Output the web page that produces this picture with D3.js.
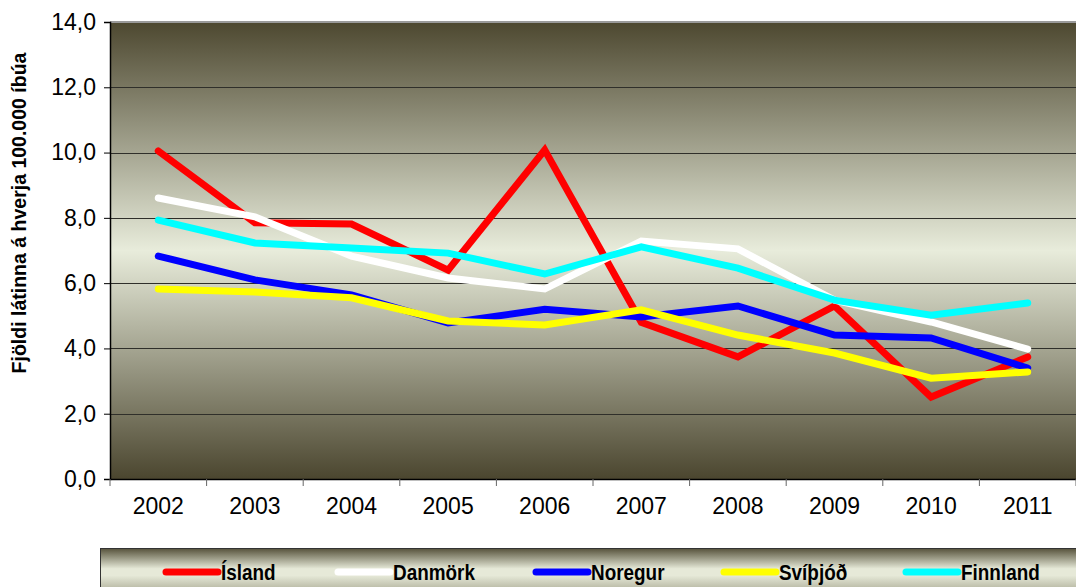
<!DOCTYPE html>
<html><head><meta charset="utf-8">
<script src="https://cdn.jsdelivr.net/npm/d3@7"></script>
<style>body{margin:0;background:#fff}svg{display:block}</style>
</head><body>
<script>
const years = ["2002","2003","2004","2005","2006","2007","2008","2009","2010","2011"];
const seriesNames = ["Ísland","Danmörk","Noregur","Svíþjóð","Finnland"];
const seriesColors = ["#ff0000","#ffffff","#0000ff","#ffff00","#00ffff"];
const island   = [10.05,7.85,7.81,6.40,10.08,4.80,3.74,5.30,2.51,3.74];
const danmork  = [8.61,8.03,6.83,6.16,5.82,7.29,7.05,5.48,4.81,3.98];
const noregur  = [6.83,6.10,5.64,4.78,5.20,4.96,5.30,4.41,4.32,3.40];
const svithjod = [5.82,5.73,5.55,4.84,4.72,5.18,4.41,3.86,3.09,3.28];
const finnland = [7.93,7.23,7.08,6.92,6.28,7.11,6.46,5.48,5.02,5.39];
const yTicks = [0,2,4,6,8,10,12,14];
const yLabel = "Fjöldi látinna á hverja 100.000 íbúa";

const allSeries = [island,danmork,noregur,svithjod,finnland];
const W=1076,H=587;
const m={l:110,r:1076,t:22,b:479};
const svg=d3.select("body").append("svg").attr("width",W).attr("height",H);
const defs=svg.append("defs");
const g1=defs.append("linearGradient").attr("id","bg").attr("x1",0).attr("y1",0).attr("x2",0).attr("y2",1);
[[0,"#4d4830"],[0.5,"#e8ecdb"],[1,"#4b462f"]].forEach(s=>g1.append("stop").attr("offset",s[0]).attr("stop-color",s[1]));
const g2=defs.append("linearGradient").attr("id","lg").attr("x1",0).attr("y1",0).attr("x2",0).attr("y2",1);
[[0,"#57533c"],[0.45,"#e6e9d8"],[0.6,"#e6e9d8"],[1,"#a8a892"]].forEach(s=>g2.append("stop").attr("offset",s[0]).attr("stop-color",s[1]));

const x=d3.scaleBand().domain(years).range([m.l,m.r]);
const y=d3.scaleLinear().domain([0,14]).range([m.b,m.t]);

svg.append("rect").attr("x",m.l).attr("y",m.t).attr("width",m.r-m.l).attr("height",m.b-m.t).attr("fill","url(#bg)");
svg.append("line").attr("x1",m.l).attr("x2",m.r).attr("y1",m.t).attr("y2",m.t).attr("stroke","#9a9a9a").attr("stroke-width",2);
svg.append("g").selectAll("line").data(yTicks.filter(d=>d>0&&d<14)).join("line")
  .attr("x1",m.l).attr("x2",m.r).attr("y1",d=>Math.round(y(d))+0.5).attr("y2",d=>Math.round(y(d))+0.5)
  .attr("stroke","#2f2f2a").attr("stroke-width",1);

const ya=svg.append("g").attr("transform",`translate(${m.l},0)`)
  .call(d3.axisLeft(y).tickValues(yTicks).tickSize(6).tickPadding(8).tickFormat(d=>d3.format(".1f")(d).replace(".",",")));
ya.selectAll("text").attr("font-family","Liberation Sans, Arial, sans-serif").attr("font-size",23).attr("fill","#000");
ya.select(".domain").attr("stroke","#000").attr("stroke-width",1.5);
const xa=svg.append("g").attr("transform",`translate(0,${m.b})`)
  .call(d3.axisBottom(x).tickSize(0).tickPadding(19));
xa.selectAll("text").attr("font-family","Liberation Sans, Arial, sans-serif").attr("font-size",23).attr("fill","#000");
xa.select(".domain").attr("stroke","#000").attr("stroke-width",1.5);
xa.selectAll("line.sep").data(years.map(d=>x(d)).concat([m.r])).join("line").attr("class","sep")
  .attr("x1",d=>d).attr("x2",d=>d).attr("y1",0).attr("y2",7).attr("stroke","#666");

svg.append("text").attr("transform","translate(26,213) rotate(-90)").attr("text-anchor","middle")
  .attr("font-family","Liberation Sans, Arial, sans-serif").attr("font-weight","bold").attr("font-size",19.5).text(yLabel);

const line=d3.line().x((d,i)=>x(years[i])+x.bandwidth()/2).y(d=>y(d));
svg.append("g").selectAll("path").data(allSeries).join("path")
  .attr("d",line).attr("fill","none").attr("stroke",(d,i)=>seriesColors[i])
  .attr("stroke-width",7).attr("stroke-linecap","round").attr("stroke-linejoin","miter");

svg.append("rect").attr("x",100.5).attr("y",548.5).attr("width",980).attr("height",45).attr("fill","url(#lg)").attr("stroke","#333");
const legX=[164,336,534,722,904];
const lg=svg.append("g").selectAll("g").data(seriesNames).join("g").attr("transform",(d,i)=>`translate(${legX[i]},572)`);
lg.append("line").attr("x1",2).attr("x2",54).attr("stroke",(d,i)=>seriesColors[i]).attr("stroke-width",7).attr("stroke-linecap","round");
lg.append("text").attr("transform","translate(57,8) scale(0.86,1)").attr("font-family","Liberation Sans, Arial, sans-serif")
  .attr("font-weight","bold").attr("font-size",22).text(d=>d);
</script>
</body></html>
